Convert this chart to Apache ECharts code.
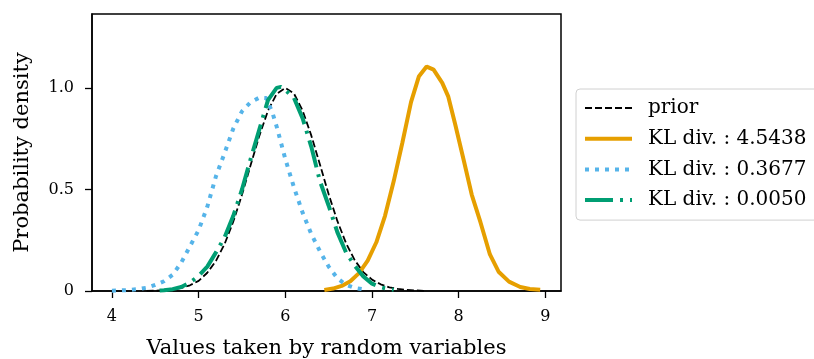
<!DOCTYPE html>
<html>
<head>
<meta charset="utf-8">
<script src="https://cdn.jsdelivr.net/npm/echarts@6/dist/echarts.min.js"></script>
<style>
  html, body { margin: 0; padding: 0; background: #fff; }
  #chart { width: 814px; height: 359px; }
</style>
</head>
<body>
<div id="chart"></div>
<script>
// densities, [x, density]
const prior = [
  [4.4, 0.001], [4.5, 0.002], [4.6, 0.004], [4.7, 0.008], [4.8, 0.015], [4.9, 0.028],
  [5.0, 0.05], [5.1, 0.09], [5.2, 0.148], [5.3, 0.232], [5.4, 0.342], [5.5, 0.474],
  [5.6, 0.62], [5.7, 0.764], [5.8, 0.888], [5.9, 0.971], [6.0, 1.0], [6.1, 0.972],
  [6.2, 0.888], [6.3, 0.765], [6.4, 0.622], [6.5, 0.476], [6.6, 0.345], [6.7, 0.236],
  [6.8, 0.152], [6.9, 0.093], [7.0, 0.056], [7.1, 0.033], [7.2, 0.018], [7.3, 0.01],
  [7.4, 0.005], [7.5, 0.003], [7.6, 0.001]
];
const klHigh = [
  [6.45, 0.005], [6.55, 0.012], [6.65, 0.025], [6.75, 0.048], [6.85, 0.088], [6.95, 0.15],
  [7.05, 0.24], [7.15, 0.37], [7.25, 0.54], [7.35, 0.73], [7.45, 0.93], [7.54, 1.056],
  [7.63, 1.105], [7.71, 1.09], [7.81, 1.025], [7.88, 0.957], [7.96, 0.82], [8.06, 0.64],
  [8.15, 0.475], [8.25, 0.34], [8.36, 0.18], [8.46, 0.095], [8.58, 0.046], [8.71, 0.02],
  [8.82, 0.01], [8.94, 0.006]
];
const klMid = [
  [4.0, 0.001], [4.1, 0.003], [4.2, 0.005], [4.3, 0.009], [4.4, 0.016], [4.5, 0.03],
  [4.6, 0.048], [4.7, 0.08], [4.8, 0.14], [4.9, 0.22], [5.0, 0.3], [5.1, 0.415],
  [5.2, 0.565], [5.3, 0.68], [5.4, 0.8], [5.5, 0.885], [5.6, 0.93], [5.7, 0.952],
  [5.78, 0.95], [5.85, 0.88], [5.9, 0.81], [5.95, 0.73], [6.0, 0.65], [6.1, 0.51],
  [6.2, 0.385], [6.3, 0.28], [6.4, 0.195], [6.5, 0.12], [6.6, 0.063], [6.7, 0.03],
  [6.8, 0.015], [6.9, 0.008]
];
const klLow = [
  [4.55, 0.002], [4.6, 0.004], [4.7, 0.009], [4.8, 0.02], [4.9, 0.042], [5.0, 0.074],
  [5.1, 0.12], [5.2, 0.19], [5.3, 0.265], [5.4, 0.37], [5.5, 0.5], [5.6, 0.65],
  [5.7, 0.795], [5.8, 0.94], [5.9, 1.0], [5.95, 1.005], [6.0, 0.99], [6.1, 0.95],
  [6.2, 0.85], [6.3, 0.71], [6.4, 0.54], [6.5, 0.42], [6.6, 0.29], [6.7, 0.19],
  [6.8, 0.125], [6.9, 0.072], [7.0, 0.036], [7.1, 0.018], [7.2, 0.009], [7.25, 0.006]
];
const seriesNames = ['prior', 'KL div. : 4.5438', 'KL div. : 0.3677', 'KL div. : 0.0050'];
const xTicks = [4, 5, 6, 7, 8, 9];
const yTicks = [0, 0.5, 1.0];

const font = 'DejaVu Serif';
const colors = ['#000000', '#E69F00', '#56B4E9', '#009E73'];
const widths = [1.8, 4, 4, 4];
const dashes = [[7, 3], 'solid', [4, 6], [28, 7, 3, 7]];

const chart = echarts.init(document.getElementById('chart'), null, { renderer: 'canvas' });

function line(i, data) {
  return {
    name: seriesNames[i],
    type: 'line',
    data: data,
    showSymbol: false,
    symbol: 'circle',
    smooth: false,
    animation: false,
    silent: true,
    lineStyle: { color: colors[i], width: widths[i], type: dashes[i], cap: 'butt' },
    itemStyle: { color: colors[i] }
  };
}

chart.setOption({
  animation: false,
  grid: {
    left: 92, right: 253, top: 14, bottom: 68,
    outerBoundsMode: 'none',
    containLabel: false,
    show: true, borderColor: '#000', borderWidth: 1.5, backgroundColor: 'transparent'
  },
  legend: {
    orient: 'vertical',
    left: 576,
    top: 89,
    padding: [9, 30, 10, 7],
    itemWidth: 47,
    itemHeight: 19,
    itemGap: 10.7,
    borderColor: '#d0d0d0',
    borderWidth: 1,
    borderRadius: 4,
    backgroundColor: 'rgba(255,255,255,0.8)',
    itemStyle: { opacity: 0 },
    textStyle: { fontFamily: font, fontSize: 20, color: '#000', padding: [0, 0, 0, 11] },
    data: seriesNames.map(function (n, i) {
      return { name: n, lineStyle: { width: widths[i], type: dashes[i], color: colors[i], cap: 'butt' } };
    })
  },
  xAxis: {
    type: 'value',
    min: 3.77,
    max: 9.18,
    name: 'Values taken by random variables',
    nameLocation: 'middle',
    nameGap: 47,
    nameTextStyle: { fontFamily: font, fontSize: 21, color: '#000' },
    axisLine: { show: true, lineStyle: { color: '#000', width: 1.5 } },
    axisTick: { show: true, length: 7, lineStyle: { color: '#000', width: 1.3 }, customValues: xTicks },
    axisLabel: { fontFamily: font, fontSize: 16, color: '#000', margin: 18, customValues: xTicks },
    splitLine: { show: false }
  },
  yAxis: {
    type: 'value',
    min: 0,
    max: 1.364,
    name: 'Probability density',
    nameLocation: 'middle',
    nameGap: 59,
    nameTextStyle: { fontFamily: font, fontSize: 21, color: '#000' },
    axisLine: { show: true, lineStyle: { color: '#000', width: 1.5 } },
    axisTick: { show: true, length: 7, lineStyle: { color: '#000', width: 1.3 }, customValues: yTicks },
    axisLabel: {
      fontFamily: font, fontSize: 16, color: '#000', margin: 18, customValues: yTicks,
      formatter: function (v) { return v === 0 ? '0' : v.toFixed(1); }
    },
    splitLine: { show: false }
  },
  series: [
    line(0, prior),
    line(1, klHigh),
    line(2, klMid),
    line(3, klLow)
  ]
});
</script>
</body>
</html>
